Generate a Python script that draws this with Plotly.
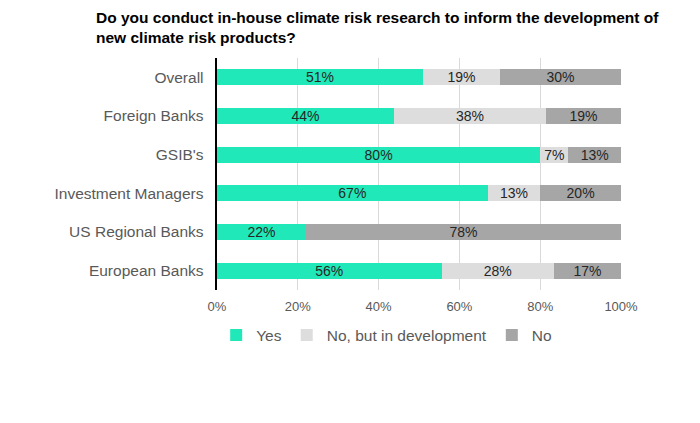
import plotly.graph_objects as go

categories = [
    "Overall",
    "Foreign Banks",
    "GSIB's",
    "Investment Managers",
    "US Regional Banks",
    "European Banks",
]
yes = [51, 43.8, 80, 67, 22, 55.6]
in_development = [19, 37.6, 7, 13, 0, 27.8]
no = [30, 18.6, 13, 20, 78, 16.6]

series = [
    ("Yes", yes, "#21E8B8"),
    ("No, but in development", in_development, "#DDDDDD"),
    ("No", no, "#A6A6A6"),
]

fig = go.Figure()
for name, vals, color in series:
    fig.add_trace(
        go.Bar(
            y=categories,
            x=vals,
            name=name,
            orientation="h",
            marker=dict(color=color, line=dict(width=0)),
            text=[f"{v:.0f}%" if v > 0 else "" for v in vals],
            textposition="inside",
            insidetextanchor="middle",
            constraintext="none",
            textfont=dict(size=14, color="#262626"),
            hoverinfo="skip",
        )
    )

# title as a left-aligned annotation above the plot
# (page body has an 8px margin, so the figure is placed 8px lower/right)
fig.add_annotation(
    text="<b>Do you conduct in-house climate risk research to inform the development of<br>new climate risk products?</b>",
    xref="paper",
    yref="paper",
    x=(86 - 209) / 404,
    y=283 / 232,
    xanchor="left",
    yanchor="top",
    align="left",
    showarrow=False,
    font=dict(size=15.5, color="black"),
)

fig.update_layout(
    barmode="stack",
    bargap=0.58,
    width=700,
    height=423,
    paper_bgcolor="white",
    plot_bgcolor="white",
    font=dict(family="Liberation Sans, Arial, sans-serif", color="#595959"),
    margin=dict(l=209, r=87, t=50, b=141, autoexpand=False),
    xaxis=dict(
        range=[0, 100],
        tickvals=[0, 20, 40, 60, 80, 100],
        ticktext=["0%", "20%", "40%", "60%", "80%", "100%"],
        showgrid=True,
        gridcolor="#D9D9D9",
        gridwidth=1,
        zeroline=False,
        tickfont=dict(size=13, color="#595959"),
        ticks="",
        ticklabelstandoff=7,
        automargin=False,
    ),
    yaxis=dict(
        autorange="reversed",
        showline=True,
        linecolor="black",
        linewidth=1.5,
        ticks="",
        ticksuffix="  ",
        tickfont=dict(size=15.5, color="#595959"),
        automargin=False,
    ),
    legend=dict(
        orientation="h",
        x=0.42,
        xanchor="center",
        y=-0.123,
        yanchor="top",
        font=dict(size=15.5, color="#595959"),
        traceorder="normal",
        itemwidth=30,
    ),
)

fig.write_html("out.html")
